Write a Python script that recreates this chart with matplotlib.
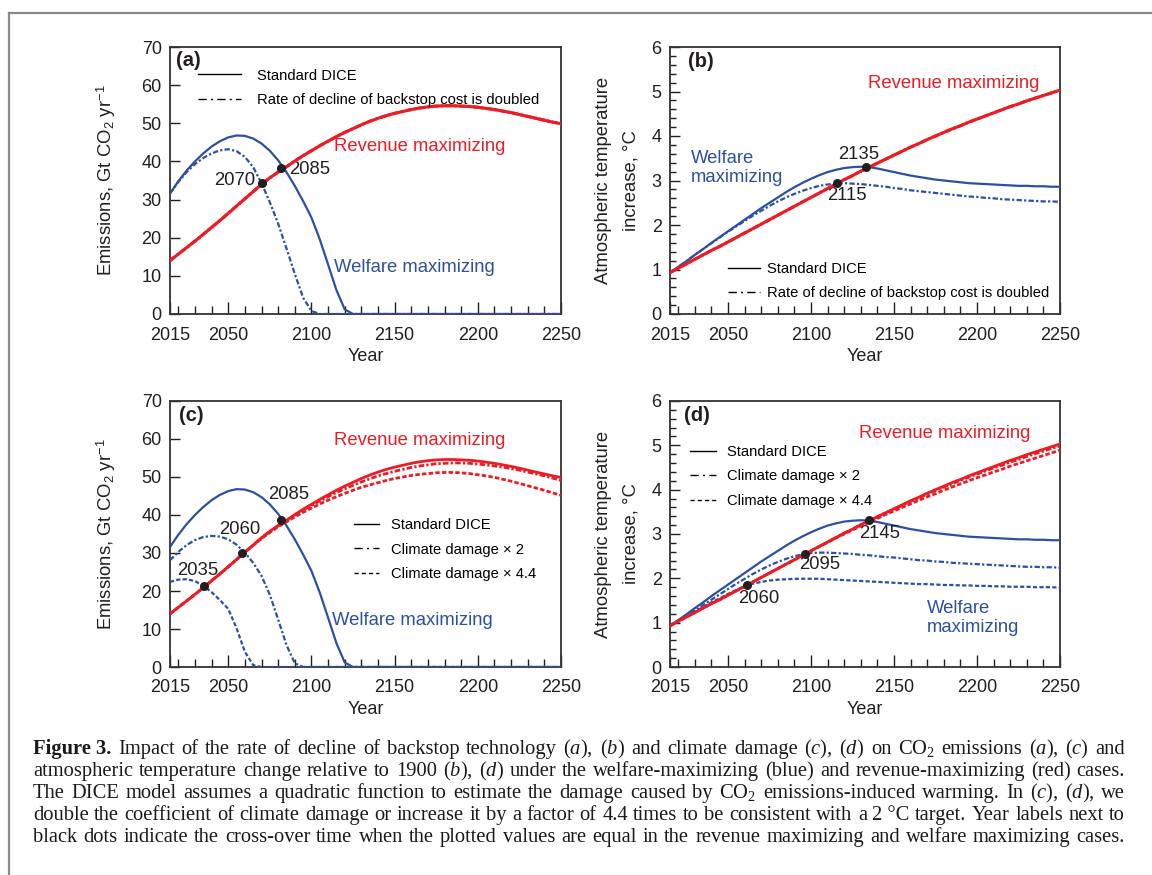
import numpy as np
import matplotlib
matplotlib.use("Agg")
import matplotlib.pyplot as plt
from matplotlib.lines import Line2D

plt.rcParams['font.family'] = ['Liberation Sans', 'DejaVu Sans']
plt.rcParams['mathtext.fontset'] = 'custom'
plt.rcParams['mathtext.rm'] = 'Liberation Serif'
plt.rcParams['mathtext.it'] = 'Liberation Serif:italic'
plt.rcParams['mathtext.bf'] = 'Liberation Serif:bold'
plt.rcParams['mathtext.sf'] = 'Liberation Sans'

RED = '#ed1c24'
BLUE = '#2c50a4'
INK = '#231f20'

# ---- data (5-year DICE steps) ----
years = np.arange(2015, 2251, 5)

emis_rev_std = [14.0, 15.7, 17.4, 19.1, 20.9, 22.7, 24.5, 26.4,
                28.3, 30.2, 32.1, 34.0, 35.7, 37.2, 38.6, 40.1,
                41.5, 42.8, 44.1, 45.3, 46.5, 47.6, 48.6, 49.6,
                50.5, 51.3, 52.0, 52.6, 53.1, 53.6, 54.0, 54.3,
                54.5, 54.6, 54.6, 54.5, 54.4, 54.2, 53.9, 53.6,
                53.2, 52.8, 52.3, 51.8, 51.3, 50.8, 50.3, 49.9]
emis_rev_bs = emis_rev_std
emis_rev_d2 = [14.0, 15.7, 17.4, 19.1, 20.9, 22.7, 24.5, 26.4,
               28.3, 30.2, 32.1, 34.0, 35.7, 37.2, 38.5, 40.0,
               41.3, 42.5, 43.7, 44.8, 45.9, 46.9, 47.8, 48.7,
               49.5, 50.3, 50.9, 51.5, 52.0, 52.5, 52.9, 53.2,
               53.5, 53.6, 53.7, 53.7, 53.6, 53.4, 53.2, 52.9,
               52.6, 52.2, 51.8, 51.3, 50.8, 50.3, 49.7, 49.1]
emis_rev_d44 = [14.0, 15.7, 17.4, 19.1, 20.9, 22.7, 24.5, 26.3,
                28.3, 30.2, 32.0, 33.8, 35.4, 36.9, 38.2, 39.5,
                40.7, 41.8, 42.9, 43.9, 44.8, 45.7, 46.5, 47.3,
                47.9, 48.5, 49.1, 49.6, 50.0, 50.4, 50.7, 50.9,
                51.1, 51.2, 51.2, 51.1, 50.9, 50.6, 50.3, 49.9,
                49.4, 48.9, 48.3, 47.7, 47.1, 46.5, 45.8, 45.2]

emis_wel_std = [31.6, 34.8, 37.6, 40.0, 42.1, 43.9, 45.3, 46.3,
                46.8, 46.7, 46.0, 44.7, 42.8, 40.3, 37.2, 33.6,
                29.6, 25.3, 19.6, 13.0, 6.3, 1.2, 0, 0] + [0] * 24
emis_wel_bs = [31.6, 34.6, 37.2, 39.3, 40.9, 42.1, 42.9, 43.2,
               42.7, 41.2, 38.5, 34.3, 29.3, 23.7, 17.2, 10.5,
               4.3, 0.8, 0, 0, 0, 0, 0, 0] + [0] * 24
emis_wel_d2 = [28.1, 30.3, 32.1, 33.4, 34.2, 34.5, 34.3, 33.6,
               32.2, 30.1, 27.4, 24.0, 19.0, 12.5, 5.8, 1.0] + [0] * 32
emis_wel_d44 = [22.4, 23.0, 23.1, 22.6, 21.4, 19.7, 17.6, 15.3,
                10.2, 4.0, 0.5, 0, 0, 0, 0, 0] + [0] * 32

temp_rev_std = [0.93, 1.03, 1.13, 1.23, 1.33, 1.43, 1.52, 1.62,
                1.72, 1.82, 1.92, 2.02, 2.12, 2.22, 2.32, 2.42,
                2.52, 2.62, 2.72, 2.82, 2.92, 3.02, 3.11, 3.21,
                3.30, 3.39, 3.48, 3.57, 3.66, 3.75, 3.83, 3.92,
                4.00, 4.08, 4.16, 4.23, 4.31, 4.38, 4.45, 4.52,
                4.59, 4.66, 4.72, 4.79, 4.85, 4.91, 4.97, 5.03]
temp_rev_bs = temp_rev_std
temp_rev_d2 = [0.93, 1.03, 1.13, 1.23, 1.33, 1.43, 1.52, 1.62,
               1.72, 1.82, 1.92, 2.02, 2.12, 2.22, 2.32, 2.42,
               2.52, 2.62, 2.72, 2.82, 2.92, 3.02, 3.11, 3.21,
               3.30, 3.39, 3.48, 3.56, 3.65, 3.74, 3.82, 3.90,
               3.98, 4.06, 4.13, 4.21, 4.28, 4.35, 4.42, 4.49,
               4.55, 4.62, 4.68, 4.75, 4.81, 4.87, 4.93, 4.99]
temp_rev_d44 = [0.93, 1.03, 1.13, 1.23, 1.33, 1.43, 1.52, 1.62,
                1.72, 1.82, 1.92, 2.02, 2.12, 2.22, 2.32, 2.42,
                2.52, 2.62, 2.72, 2.81, 2.91, 3.00, 3.09, 3.18,
                3.27, 3.35, 3.44, 3.52, 3.60, 3.68, 3.76, 3.84,
                3.91, 3.99, 4.06, 4.13, 4.20, 4.27, 4.33, 4.40,
                4.46, 4.53, 4.59, 4.65, 4.71, 4.77, 4.83, 4.89]

temp_wel_std = [0.93, 1.06, 1.19, 1.33, 1.46, 1.60, 1.73, 1.86,
                1.99, 2.12, 2.25, 2.38, 2.50, 2.62, 2.74, 2.85,
                2.95, 3.04, 3.12, 3.19, 3.24, 3.28, 3.30, 3.31,
                3.30, 3.27, 3.23, 3.19, 3.15, 3.11, 3.08, 3.05,
                3.02, 3.00, 2.98, 2.96, 2.94, 2.93, 2.92, 2.91,
                2.90, 2.89, 2.88, 2.88, 2.87, 2.87, 2.86, 2.86]
temp_wel_bs = [0.93, 1.06, 1.19, 1.33, 1.46, 1.59, 1.72, 1.85,
               1.97, 2.09, 2.21, 2.32, 2.43, 2.53, 2.62, 2.70,
               2.77, 2.83, 2.88, 2.91, 2.93, 2.94, 2.93, 2.92,
               2.90, 2.88, 2.86, 2.83, 2.81, 2.78, 2.76, 2.74,
               2.72, 2.70, 2.68, 2.66, 2.64, 2.63, 2.61, 2.60,
               2.58, 2.57, 2.56, 2.55, 2.54, 2.53, 2.53, 2.52]
temp_wel_d2 = [0.93, 1.05, 1.16, 1.28, 1.40, 1.52, 1.64, 1.76,
               1.88, 1.99, 2.10, 2.20, 2.29, 2.37, 2.44, 2.50,
               2.54, 2.57, 2.58, 2.58, 2.57, 2.56, 2.55, 2.53,
               2.52, 2.50, 2.48, 2.47, 2.45, 2.43, 2.41, 2.40,
               2.38, 2.37, 2.35, 2.34, 2.33, 2.32, 2.31, 2.30,
               2.29, 2.28, 2.27, 2.26, 2.26, 2.25, 2.25, 2.24]
temp_wel_d44 = [0.93, 1.04, 1.14, 1.25, 1.35, 1.46, 1.55, 1.65,
                1.74, 1.82, 1.88, 1.92, 1.95, 1.97, 1.98, 1.99,
                1.99, 1.99, 1.99, 1.98, 1.97, 1.96, 1.95, 1.94,
                1.93, 1.92, 1.91, 1.90, 1.89, 1.88, 1.87, 1.87,
                1.86, 1.85, 1.85, 1.84, 1.84, 1.83, 1.83, 1.82,
                1.82, 1.81, 1.81, 1.81, 1.80, 1.80, 1.80, 1.79]

# cross-over dots (year, value) and their labels
cross_a_year, cross_a_val = [2070, 2082], [34.3, 38.3]
cross_b_year, cross_b_val = [2115.8, 2133.3], [2.94, 3.30]
cross_c_year, cross_c_val = [2035.5, 2058.4, 2081.7], [21.3, 30.1, 38.6]
cross_d_year, cross_d_val = [2061.6, 2096.5, 2135], [1.84, 2.56, 3.32]

xticks_major = [2015, 2050, 2100, 2150, 2200, 2250]
leg_bs = ['Standard DICE', 'Rate of decline of backstop cost is doubled']
leg_dmg = ['Standard DICE', 'Climate damage \u00d7 2', 'Climate damage \u00d7 4.4']

# ---- styles ----
DD = (0, (2.4, 1.0, 1.0, 1.0))
DS = (0, (1.9, 1.0))
RDD = (0, (2.0, 0.8, 0.8, 0.8))
RDS = (0, (1.6, 0.8))
LDD = (0, (6, 3, 1.5, 3))
LDS = (0, (3, 2.2))

fig = plt.figure(figsize=(11.52, 8.75), dpi=100)
W, H = 1152, 875


def make_ax(l, t, r, b):
    return fig.add_axes([l / W, 1 - b / H, (r - l) / W, (b - t) / H])


def setup(ax, ymax, ystep, yminor, ylabel, ylabelpad):
    ax.set_xlim(2015, 2250)
    ax.set_ylim(0, ymax)
    ax.set_xticks(xticks_major)
    ax.set_xticks(np.arange(2020, 2250, 10), minor=True)
    ax.set_yticks(np.arange(0, ymax + 0.01, ystep))
    if yminor:
        ax.set_yticks(np.arange(0, ymax + 0.001, yminor), minor=True)
    ax.tick_params(which='both', direction='in', top=False, right=False,
                   labelsize=13, colors=INK, width=1)
    ax.tick_params(axis='x', which='major', length=9, pad=9)
    ax.tick_params(axis='x', which='minor', length=5.5)
    ax.tick_params(axis='y', which='major', length=7, pad=6)
    ax.tick_params(axis='y', which='minor', length=4)
    for s in ax.spines.values():
        s.set_color('#333333')
        s.set_linewidth(1.3)
    ax.set_xlabel('Year', fontsize=13, color=INK, labelpad=3)
    ax.set_ylabel(ylabel, fontsize=13.3, color=INK, linespacing=1.75,
                  labelpad=ylabelpad)


def add_legend(ax, styles, labels, anchor, hlen, hpad):
    hs = [Line2D([], [], color='k', lw=1, ls=s) for s in styles]
    ax.legend(hs, labels, loc='upper left', bbox_to_anchor=anchor,
              frameon=False, fontsize=10.6, handlelength=hlen,
              handletextpad=hpad, labelspacing=0.7, borderpad=0,
              borderaxespad=0)


emis_label = r'Emissions, Gt CO$_\mathsf{2}$ yr$^{\mathsf{-1}}$'
temp_label = 'Atmospheric temperature\nincrease, \u00b0C'
TXT = dict(fontsize=13.3, va='center')
NUM = dict(fontsize=13.3, va='center', color=INK)
LET = dict(fontsize=14.5, fontweight='bold', va='center', color=INK)

# (a)
ax = make_ax(170, 47, 561, 314)
setup(ax, 70, 10, None, emis_label, 17)
ax.plot(years, emis_wel_std, color=BLUE, lw=1.6, zorder=3)
ax.plot(years, emis_wel_bs, color=BLUE, lw=1.6, ls=DD, zorder=3)
ax.plot(years, emis_rev_std, color=RED, lw=2.2, zorder=4)
ax.plot(years, emis_rev_bs, color=RED, lw=2.2, ls=RDD, zorder=4)
ax.plot(cross_a_year, cross_a_val, 'o', color=INK, ms=5.5, zorder=6)
ax.text(2113.6, 43.8, 'Revenue maximizing', color=RED, **TXT)
ax.text(2113.6, 12.3, 'Welfare maximizing', color=BLUE, **TXT)
ax.text(2066.4, 35.0, '2070', ha='right', **NUM)
ax.text(2086.7, 38.0, '2085', ha='left', **NUM)
ax.text(0.015, 0.95, '(a)', transform=ax.transAxes, **LET)
add_legend(ax, ['-', LDD], leg_bs, (0.071, 0.919), 2.95, 1.05)

# (b)
ax = make_ax(670, 47, 1060, 314)
setup(ax, 6, 1, 0.2, temp_label, 9)
ax.plot(years, temp_wel_std, color=BLUE, lw=1.6, zorder=3)
ax.plot(years, temp_wel_bs, color=BLUE, lw=1.6, ls=DD, zorder=3)
ax.plot(years, temp_rev_std, color=RED, lw=2.2, zorder=4)
ax.plot(years, temp_rev_bs, color=RED, lw=2.2, ls=RDD, zorder=4)
ax.plot(cross_b_year, cross_b_val, 'o', color=INK, ms=5.5, zorder=6)
ax.text(2134.1, 5.17, 'Revenue maximizing', color=RED, **TXT)
ax.text(2027.6, 3.29, 'Welfare\nmaximizing', color=BLUE, linespacing=1.15, **TXT)
ax.text(2128.7, 3.58, '2135', ha='center', **NUM)
ax.text(2121.4, 2.66, '2115', ha='center', **NUM)
ax.text(0.045, 0.944, '(b)', transform=ax.transAxes, **LET)
add_legend(ax, ['-', LDD], leg_bs, (0.149, 0.196), 2.15, 0.5)

# (c)
ax = make_ax(170, 401, 561, 667)
setup(ax, 70, 10, None, emis_label, 17)
ax.plot(years, emis_wel_std, color=BLUE, lw=1.6, zorder=3)
ax.plot(years, emis_wel_d2, color=BLUE, lw=1.6, ls=DD, zorder=3)
ax.plot(years, emis_wel_d44, color=BLUE, lw=1.6, ls=DS, zorder=3)
ax.plot(years, emis_rev_std, color=RED, lw=2.0, zorder=4)
ax.plot(years, emis_rev_d2, color=RED, lw=2.0, ls=RDD, zorder=4)
ax.plot(years, emis_rev_d44, color=RED, lw=2.0, ls=RDS, zorder=4)
ax.plot(cross_c_year, cross_c_val, 'o', color=INK, ms=5.5, zorder=6)
ax.text(2113.6, 59.5, 'Revenue maximizing', color=RED, **TXT)
ax.text(2112.6, 12.3, 'Welfare maximizing', color=BLUE, **TXT)
for yr, xx, yy in [('2085', 2086.1, 45.4), ('2060', 2057.0, 36.2), ('2035', 2031.9, 25.4)]:
    ax.text(xx, yy, yr, ha='center', **NUM)
ax.text(0.023, 0.946, '(c)', transform=ax.transAxes, **LET)
add_legend(ax, ['-', LDD, LDS], leg_dmg, (0.47, 0.559), 1.7, 0.83)

# (d)
ax = make_ax(670, 401, 1060, 667)
setup(ax, 6, 1, 0.2, temp_label, 9)
ax.plot(years, temp_wel_std, color=BLUE, lw=1.6, zorder=3)
ax.plot(years, temp_wel_d2, color=BLUE, lw=1.6, ls=DD, zorder=3)
ax.plot(years, temp_wel_d44, color=BLUE, lw=1.6, ls=DS, zorder=3)
ax.plot(years, temp_rev_std, color=RED, lw=2.0, zorder=4)
ax.plot(years, temp_rev_d2, color=RED, lw=2.0, ls=RDD, zorder=4)
ax.plot(years, temp_rev_d44, color=RED, lw=2.0, ls=RDS, zorder=4)
ax.plot(cross_d_year, cross_d_val, 'o', color=INK, ms=5.5, zorder=6)
ax.text(2128.6, 5.26, 'Revenue maximizing', color=RED, **TXT)
ax.text(2170.0, 1.10, 'Welfare\nmaximizing', color=BLUE, linespacing=1.15, **TXT)
for yr, xx, yy in [('2145', 2141.4, 3.02), ('2095', 2105.4, 2.32), ('2060', 2068.2, 1.54)]:
    ax.text(xx, yy, yr, ha='center', **NUM)
ax.text(0.037, 0.946, '(d)', transform=ax.transAxes, **LET)
add_legend(ax, ['-', LDD, LDS], leg_dmg, (0.051, 0.834), 1.75, 0.8)

# ---- frame ----
fx, fy = 9 / W, 1 - 13 / H
fig.add_artist(Line2D([fx, 1], [fy, fy], transform=fig.transFigure, color='#8a8a8a', lw=1.6))
fig.add_artist(Line2D([fx, fx], [0, fy], transform=fig.transFigure, color='#8a8a8a', lw=1.6))

# ---- caption, justified word by word ----
caption = [
    r"Figure~3. Impact of the rate of decline of backstop technology ($\mathit{a}$), ($\mathit{b}$) and climate damage ($\mathit{c}$), ($\mathit{d}$) on CO$_2$ emissions ($\mathit{a}$), ($\mathit{c}$) and",
    r"atmospheric temperature change relative to 1900 ($\mathit{b}$), ($\mathit{d}$) under the welfare-maximizing (blue) and revenue-maximizing (red) cases.",
    r"The DICE model assumes a quadratic function to estimate the damage caused by CO$_2$ emissions-induced warming. In ($\mathit{c}$), ($\mathit{d}$), we",
    r"double the coefficient of climate damage or increase it by a factor of 4.4 times to be consistent with a 2~°C target. Year labels next to",
    r"black dots indicate the cross-over time when the plotted values are equal in the revenue maximizing and welfare maximizing cases.",
]
cap_x0, cap_x1 = 33, 1125
cap_base = [754, 776, 798, 820, 842]
renderer = fig.canvas.get_renderer()
for i, line in enumerate(caption):
    words = [w.replace('~', ' ') for w in line.split(' ')]
    size = 14.8
    while True:
        texts = []
        for j, w in enumerate(words):
            bold = (i == 0 and j == 0)
            t = fig.text(0, 1 - cap_base[i] / H, w, fontsize=size, color='#1a1a1a',
                         family='Liberation Serif',
                         fontweight='bold' if bold else 'normal',
                         va='baseline', ha='left')
            texts.append(t)
        widths = [t.get_window_extent(renderer).width for t in texts]
        gap = (cap_x1 - cap_x0 - sum(widths)) / (len(texts) - 1)
        if gap >= 3.4 or size < 11:
            break
        for t in texts:
            t.remove()
        size -= 0.2
    x = cap_x0
    for t, wd in zip(texts, widths):
        t.set_x(x / W)
        x += wd + gap

fig.savefig('out.png', dpi=100, facecolor='white')
